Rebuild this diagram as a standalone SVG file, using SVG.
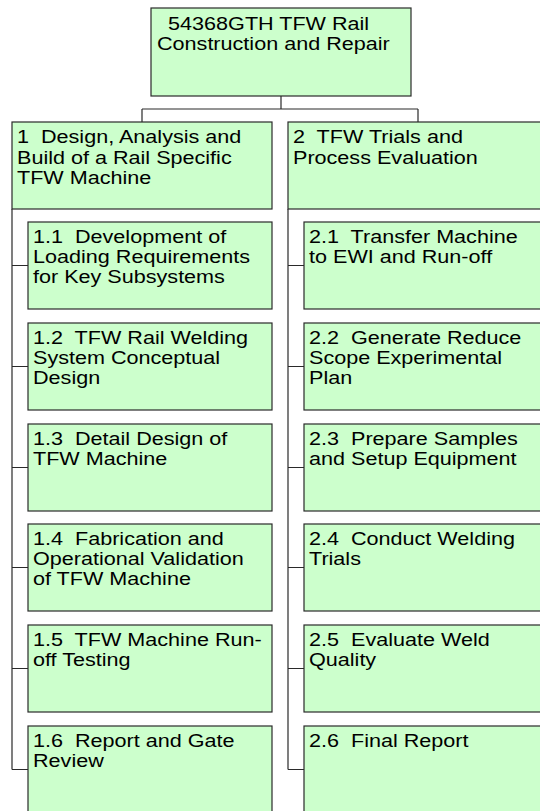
<svg xmlns="http://www.w3.org/2000/svg" width="540" height="811" viewBox="0 0 540 811">
<style>
.box{fill:#CCFFCC;stroke:#2a2a2a;stroke-width:1.2}
.lbl{font-family:"Liberation Sans",Arial,sans-serif;font-size:17.5px;fill:#000;white-space:pre}
.con{fill:none;stroke:#2a2a2a;stroke-width:1.2}
</style>
<rect width="540" height="811" fill="#ffffff"/>
<g id="connectors">
<path class="con" d="M281,96 V109 M142,109 H418 M142,109 V122 M418,109 V122"/>
<path class="con" d="M12,209 V769.5 M12,265.5 H28 M12,366.5 H28 M12,467.5 H28 M12,567.5 H28 M12,668.5 H28 M12,769.5 H28"/>
<path class="con" d="M288,209 V769.5 M288,265.5 H304 M288,366.5 H304 M288,467.5 H304 M288,567.5 H304 M288,668.5 H304 M288,769.5 H304"/>
</g>
<g id="root">
<rect class="box" x="151" y="8" width="260" height="88"/>
<text class="lbl" transform="translate(157,29.5) scale(1.234,1)"><tspan x="9" y="0">54368GTH TFW Rail</tspan><tspan x="0" y="20.5">Construction and Repair</tspan></text>
</g>
<g id="n1">
<rect class="box" x="12" y="122" width="260" height="87"/>
<text class="lbl" transform="translate(17,143.3) scale(1.234,1)"><tspan x="0" y="0">1  Design, Analysis and</tspan><tspan x="0" y="20.5">Build of a Rail Specific</tspan><tspan x="0" y="41">TFW Machine</tspan></text>
</g>
<g id="n2">
<rect class="box" x="288" y="122" width="260" height="87"/>
<text class="lbl" transform="translate(293,143.3) scale(1.234,1)"><tspan x="0" y="0">2  TFW Trials and</tspan><tspan x="0" y="20.5">Process Evaluation</tspan></text>
</g>
<g id="n1_1">
<rect class="box" x="28" y="222" width="244" height="87"/>
<text class="lbl" transform="translate(33,243.3) scale(1.234,1)"><tspan x="0" y="0">1.1  Development of</tspan><tspan x="0" y="20">Loading Requirements</tspan><tspan x="0" y="40">for Key Subsystems</tspan></text>
</g>
<g id="n1_2">
<rect class="box" x="28" y="323" width="244" height="87"/>
<text class="lbl" transform="translate(33,344.3) scale(1.234,1)"><tspan x="0" y="0">1.2  TFW Rail Welding</tspan><tspan x="0" y="20">System Conceptual</tspan><tspan x="0" y="40">Design</tspan></text>
</g>
<g id="n1_3">
<rect class="box" x="28" y="424" width="244" height="87"/>
<text class="lbl" transform="translate(33,445.3) scale(1.234,1)"><tspan x="0" y="0">1.3  Detail Design of</tspan><tspan x="0" y="20">TFW Machine</tspan></text>
</g>
<g id="n1_4">
<rect class="box" x="28" y="524" width="244" height="87"/>
<text class="lbl" transform="translate(33,545.3) scale(1.234,1)"><tspan x="0" y="0">1.4  Fabrication and</tspan><tspan x="0" y="20">Operational Validation</tspan><tspan x="0" y="40">of TFW Machine</tspan></text>
</g>
<g id="n1_5">
<rect class="box" x="28" y="625" width="244" height="87"/>
<text class="lbl" transform="translate(33,646.3) scale(1.234,1)"><tspan x="0" y="0">1.5  TFW Machine Run-</tspan><tspan x="0" y="20">off Testing</tspan></text>
</g>
<g id="n1_6">
<rect class="box" x="28" y="726" width="244" height="87"/>
<text class="lbl" transform="translate(33,747.3) scale(1.234,1)"><tspan x="0" y="0">1.6  Report and Gate</tspan><tspan x="0" y="20">Review</tspan></text>
</g>
<g id="n2_1">
<rect class="box" x="304" y="222" width="244" height="87"/>
<text class="lbl" transform="translate(309,243.3) scale(1.234,1)"><tspan x="0" y="0">2.1  Transfer Machine</tspan><tspan x="0" y="20">to EWI and Run-off</tspan></text>
</g>
<g id="n2_2">
<rect class="box" x="304" y="323" width="244" height="87"/>
<text class="lbl" transform="translate(309,344.3) scale(1.234,1)"><tspan x="0" y="0">2.2  Generate Reduce</tspan><tspan x="0" y="20">Scope Experimental</tspan><tspan x="0" y="40">Plan</tspan></text>
</g>
<g id="n2_3">
<rect class="box" x="304" y="424" width="244" height="87"/>
<text class="lbl" transform="translate(309,445.3) scale(1.234,1)"><tspan x="0" y="0">2.3  Prepare Samples</tspan><tspan x="0" y="20">and Setup Equipment</tspan></text>
</g>
<g id="n2_4">
<rect class="box" x="304" y="524" width="244" height="87"/>
<text class="lbl" transform="translate(309,545.3) scale(1.234,1)"><tspan x="0" y="0">2.4  Conduct Welding</tspan><tspan x="0" y="20">Trials</tspan></text>
</g>
<g id="n2_5">
<rect class="box" x="304" y="625" width="244" height="87"/>
<text class="lbl" transform="translate(309,646.3) scale(1.234,1)"><tspan x="0" y="0">2.5  Evaluate Weld</tspan><tspan x="0" y="20">Quality</tspan></text>
</g>
<g id="n2_6">
<rect class="box" x="304" y="726" width="244" height="87"/>
<text class="lbl" transform="translate(309,747.3) scale(1.234,1)"><tspan x="0" y="0">2.6  Final Report</tspan></text>
</g>
</svg>
